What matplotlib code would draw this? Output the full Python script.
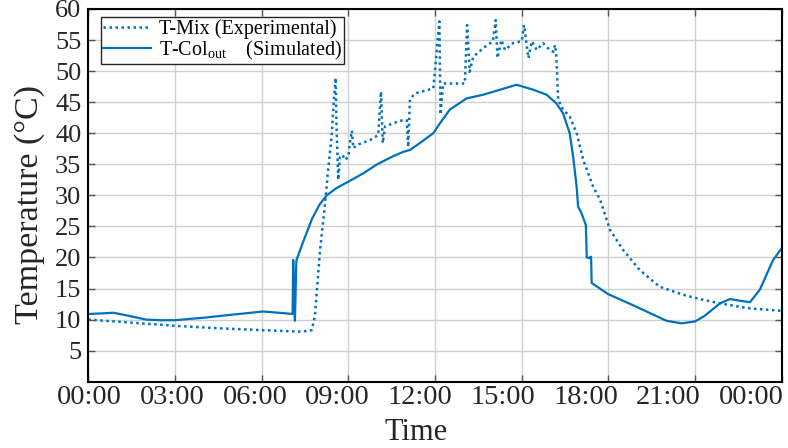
import numpy as np
import matplotlib
matplotlib.use("Agg")
import matplotlib.pyplot as plt

plt.rcParams['font.family'] = ['Liberation Serif', 'DejaVu Serif']
plt.rcParams['mathtext.fontset'] = 'custom'
plt.rcParams['mathtext.rm'] = 'Liberation Serif'
plt.rcParams['mathtext.it'] = 'Liberation Serif:italic'

BLUE = '#0072BD'
TEXT = '#262626'

# Simulated collector outlet temperature (hours, degC)
sim_hours = [0.0, 0.5, 0.86, 1.3, 2.0, 2.5, 3.0, 4.0, 5.0, 6.05, 6.6, 7.07,
             7.09, 7.12, 7.15, 7.2, 7.33, 7.5, 7.75, 8.0, 8.25, 8.6, 9.0,
             9.5, 10.0, 10.55, 10.9, 11.13, 11.47, 11.94, 12.17, 12.51,
             13.09, 13.67, 14.25, 14.82, 15.4, 15.86, 16.2, 16.43, 16.66,
             16.78, 16.9, 16.95, 17.07, 17.22, 17.25, 17.36, 17.38, 17.40,
             17.42, 17.99, 19.0, 20.01, 20.53, 21.0, 21.3, 21.86, 22.2,
             22.6, 22.9, 23.24, 23.7, 24.0]
sim_temp = [10.9, 11.0, 11.1, 10.7, 10.0, 9.9, 9.9, 10.3, 10.8, 11.3, 11.1,
            10.9, 19.6, 15.0, 9.8, 19.5, 21.2, 23.3, 26.3, 28.5, 30.0, 31.2,
            32.2, 33.5, 35.0, 36.3, 37.0, 37.3, 38.4, 40.0, 41.6, 43.8,
            45.6, 46.2, 47.0, 47.8, 47.0, 46.2, 44.8, 43.2, 40.0, 36.2,
            31.4, 28.2, 27.1, 25.2, 20.0, 19.9, 20.1, 20.1, 15.9, 14.1,
            12.0, 9.8, 9.4, 9.7, 10.5, 12.6, 13.3, 13.0, 12.8, 14.8,
            19.6, 21.5]

# Measured mixing temperature (hours, degC)
exp_hours = [0.0, 1.5, 3.0, 4.5, 6.0, 7.38, 7.73, 7.84, 8.02, 8.19, 8.3,
             8.42, 8.5, 8.56, 8.59, 8.65, 8.71, 8.8, 8.88, 9.0, 9.05, 9.12,
             9.17, 9.29, 9.75, 10.03, 10.13, 10.19, 10.27, 10.38, 10.78,
             11.02, 11.07, 11.13, 11.3, 11.94, 12.15, 12.19, 12.28, 13.03,
             13.11, 13.2, 13.32, 13.67, 14.0, 14.1, 14.16, 14.3, 14.42,
             14.7, 15.0, 15.08, 15.23, 15.35, 15.52, 15.74, 15.97, 16.09,
             16.15, 16.2, 16.26, 16.43, 16.66, 16.9, 17.13, 17.47, 17.71,
             18.06, 18.51, 19.08, 19.77, 20.58, 21.17, 21.86, 22.9, 24.0]
exp_temp = [10.0, 9.5, 9.0, 8.6, 8.3, 8.05, 8.3, 10.5, 21.2, 28.5, 34.1,
            39.5, 45.4, 48.9, 41.1, 32.5, 36.2, 36.5, 35.7, 36.2, 38.4, 40.4,
            37.6, 38.1, 38.9, 39.7, 46.7, 38.4, 41.1, 41.3, 42.0,
            42.1, 37.8, 45.4, 46.4, 47.2, 58.0, 43.0, 48.0, 48.0,
            57.4, 49.9, 52.3, 53.7, 54.8, 58.2, 52.1, 55.0, 53.4,
            54.5, 54.8, 57.4, 52.1, 54.8, 53.4, 54.5, 53.4, 53.1,
            54.2, 52.3, 45.4, 43.8, 42.7, 40.0, 35.7, 31.4, 29.3,
            24.4, 21.2, 18.0, 15.3, 14.0, 13.3, 12.6, 11.8, 11.4]

x_ticks = [0, 3, 6, 9, 12, 15, 18, 21, 24]
x_labels = ['00:00', '03:00', '06:00', '09:00', '12:00', '15:00',
            '18:00', '21:00', '00:00']
y_ticks = [5, 10, 15, 20, 25, 30, 35, 40, 45, 50, 55, 60]

fig = plt.figure(figsize=(7.88, 4.48), dpi=100)
ax = fig.add_axes([0.1121, 0.148, 0.880, 0.832])

ax.plot(exp_hours, exp_temp, color=BLUE, lw=1.8, linestyle=(0, (1, 1.4)),
        label='T-Mix (Experimental)')
ax.plot(sim_hours, sim_temp, color=BLUE, lw=1.6,
        label='T-Col$_{\\mathrm{out}}$    (Simulated)')

ax.set_xlim(0, 24)
ax.set_ylim(0, 60)
ax.set_xticks(x_ticks)
ax.set_xticklabels([])
ax.set_yticks(y_ticks)

# hour labels sit on a slightly tighter pitch than the grid
for t, lab in zip(x_ticks, x_labels):
    ax.text(0.04 + t * 0.954, -0.009, lab, transform=ax.get_xaxis_transform(),
            ha='center', va='top', fontsize=20.5, color=TEXT)

ax.grid(True, color='#d0d0d0', lw=1.0)
ax.set_axisbelow(True)
ax.tick_params(direction='in', length=5, width=1, color='#555555',
               top=True, right=True, labelcolor=TEXT)
ax.tick_params(axis='y', labelsize=19, pad=5)
for s in ax.spines.values():
    s.set_linewidth(1.5)
    s.set_color('black')

ax.set_xlabel('Time', fontsize=22, color=TEXT)
ax.set_ylabel('Temperature (°C)', fontsize=24.5, color=TEXT)
ax.xaxis.set_label_coords(0.4726, -0.098)
ax.yaxis.set_label_coords(-0.063, 0.475)

leg = ax.legend(loc='upper left', bbox_to_anchor=(0.018, 0.978), fontsize=14.5,
                frameon=True, fancybox=False, handlelength=2.4,
                borderaxespad=0.0, borderpad=0.1, labelspacing=0.0,
                handletextpad=0.4)
leg.get_frame().set_edgecolor(TEXT)
leg.get_frame().set_linewidth(1.0)
leg.get_frame().set_alpha(1)

fig.savefig('out.png', dpi=100)
